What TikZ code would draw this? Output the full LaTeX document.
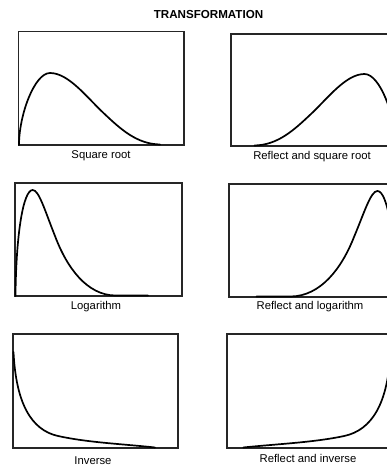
\documentclass[tikz,border=0pt]{standalone}
\usepackage{fontspec}
\setmainfont{Liberation Sans}
\newcommand\sqrtcurve{(0.5,0) .. controls (0.5,30) and (16,72) .. (31.5,72) .. controls (50,72) and (68,48) .. (85,32) .. controls (102,16) and (118,1) .. (141.5,0.5)}
\newcommand\logcurve{(0.5,0) .. controls (1,60) and (8,106) .. (17.7,106) .. controls (24,106) and (30,85) .. (40,60) .. controls (52,28) and (72,1) .. (100,0.5) -- (133,0.5)}
\newcommand\invcurve{(0.5,96) .. controls (3,45) and (18,18) .. (45,12) .. controls (75,5.4) and (110,4) .. (142,0.5)}
\begin{document}
\begin{tikzpicture}[x=1pt,y=1pt,
  frame/.style={draw=black!85, line width=1.1pt},
  curve/.style={draw=black, line width=1.7pt, line cap=round},
  caption/.style={anchor=base, inner sep=0pt, font=\fontsize{11.3}{13}\selectfont},
  heading/.style={anchor=base, inner sep=0pt, font=\fontsize{11.6}{13}\selectfont\bfseries}]
\useasboundingbox (0,0) rectangle (387,469);
\clip (0,0) rectangle (387,469);
\fill[white] (0,0) rectangle (387,469);
\node[heading] (title) at (208.5,450) {TRANSFORMATION};
% row 1
\draw[frame] (18.5,324) rectangle (184,437.5);
\begin{scope}[shift={(18.5,324)}]
  \draw[curve] \sqrtcurve;
\end{scope}
\draw[frame] (231,323) rectangle (396,435);
\begin{scope}[shift={(396,323)}, xscale=-1]
  \draw[curve] \sqrtcurve;
\end{scope}
\node[caption] (l1) at (101,310) {Square root};
\node[caption] (r1) at (312,309) {Reflect and square root};
% row 2
\draw[frame] (15,173) rectangle (182,286);
\begin{scope}[shift={(15,173)}]
  \draw[curve] \logcurve;
\end{scope}
\draw[frame] (229,172) rectangle (396,285);
\begin{scope}[shift={(396,172)}, xscale=-1.05]
  \draw[curve] \logcurve;
\end{scope}
\node[caption] (l2) at (96,159) {Logarithm};
\node[caption] (r2) at (310,159) {Reflect and logarithm};
% row 3
\draw[frame] (13,21) rectangle (178,135);
\begin{scope}[shift={(13,21)}]
  \draw[curve] \invcurve;
\end{scope}
\draw[frame] (227,21) rectangle (391,135);
\begin{scope}[shift={(391,21)}, xscale=-1.04]
  \draw[curve] \invcurve;
\end{scope}
\node[caption] (l3) at (93,5) {Inverse};
\node[caption] (r3) at (308,6) {Reflect and inverse};
\end{tikzpicture}
\end{document}
